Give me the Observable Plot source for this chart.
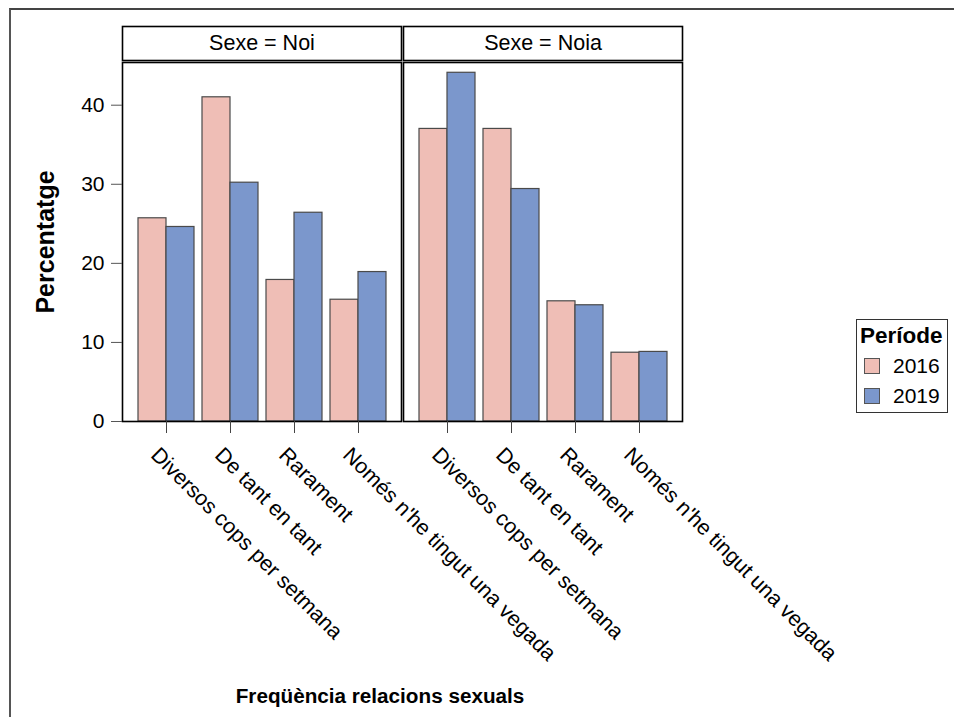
<!DOCTYPE html>
<html>
<head>
<meta charset="utf-8">
<script src="https://cdn.jsdelivr.net/npm/d3@7"></script>
<script src="https://cdn.jsdelivr.net/npm/@observablehq/plot@0.6"></script>
<style>
  html, body { margin: 0; padding: 0; background: #fff; overflow: hidden; }
  #wrap { position: relative; width: 954px; height: 717px; font-family: "Liberation Sans", Arial, sans-serif; }
  #border { position: absolute; left: 9px; top: 8px; width: 1200px; height: 1200px; border-top: 2px solid #444; border-left: 2px solid #555; }
  #legend { position: absolute; left: 856px; top: 319px; width: 92px; height: 94px; border: 1px solid #333; background: #fff; box-sizing: border-box; }
  #legend .title { position: absolute; left: 3px; top: 3px; font-weight: bold; font-size: 22.5px; color: #000; }
  #legend .row { position: absolute; left: 7px; display: flex; align-items: center; font-size: 21px; color: #000; }
  #legend .sw { width: 16px; height: 16px; border: 1px solid #555; margin-right: 13px; box-sizing: border-box; }
  #chart { position: absolute; left: 0; top: 0; }
</style>
</head>
<body>
<div id="wrap">
  <div id="border"></div>
  <div id="chart"></div>
  <div id="legend"></div>
</div>
<script>
const sexes = ["Noi", "Noia"];
const categories = ["Diversos cops per setmana", "De tant en tant", "Rarament", "Només n'he tingut una vegada"];
const periods = ["2016", "2019"];
const noi2016 = [25.7, 41.0, 17.9, 15.4];
const noi2019 = [24.6, 30.2, 26.4, 18.9];
const noia2016 = [37.0, 37.0, 15.2, 8.7];
const noia2019 = [44.1, 29.4, 14.7, 8.8];
const yTicks = [0, 10, 20, 30, 40];
const periodColors = ["#EFBEB6", "#7B97CC"];
const legendTitle = "Període";
const xTitle = "Freqüència relacions sexuals";
const yTitle = "Percentatge";
const stripPrefix = "Sexe = ";

const series = {Noi: {"2016": noi2016, "2019": noi2019}, Noia: {"2016": noia2016, "2019": noia2019}};
const rows = [];
for (const s of sexes) for (const p of periods) categories.forEach((c, i) => rows.push({sex: s, period: p, cat: c, value: series[s][p][i]}));

const chart = Plot.plot({
  width: 954,
  height: 717,
  marginLeft: 122,
  marginRight: 272,
  marginTop: 62,
  marginBottom: 296,
  style: {fontFamily: '"Liberation Sans", Arial, sans-serif', fontSize: "21px", background: "transparent", color: "#000"},
  fx: {domain: sexes, paddingInner: 0.0072, paddingOuter: 0, axis: null, label: null},
  x: {domain: categories, paddingInner: 0.125, paddingOuter: 0.242, label: null},
  y: {domain: [0, 45.4], label: null},
  color: {domain: periods, range: periodColors},
  marks: [
    Plot.barY(rows.filter(d => d.period === periods[0]), {fx: "sex", x: "cat", y: "value", fill: "period", stroke: "#4a4a4a", strokeWidth: 1.2, insetRight: 28}),
    Plot.barY(rows.filter(d => d.period === periods[1]), {fx: "sex", x: "cat", y: "value", fill: "period", stroke: "#4a4a4a", strokeWidth: 1.2, insetLeft: 28}),
    Plot.frame({stroke: "#000", strokeWidth: 1.6}),
    Plot.frame({stroke: "#000", strokeWidth: 1.6, insetTop: -36, insetBottom: 361}),
    Plot.text(sexes, {fx: d => d, text: d => stripPrefix + d, frameAnchor: "top", dy: -19, lineAnchor: "middle", fontSize: 21.5}),
    Plot.axisY({ticks: yTicks, tickSize: 11, tickPadding: 7, stroke: "#555", fontSize: 21, label: null}),
    Plot.axisX({tickSize: 12, tickRotate: 45, textAnchor: "start", lineAnchor: "top", tickPadding: 9, stroke: "#444", fontSize: 21.5, label: null})
  ]
});
document.getElementById("chart").appendChild(chart);

const svg = d3.select(chart);
svg.selectAll('[aria-label="x-axis tick label"]').each(function() {
  const t = this.getAttribute("transform") || "";
  this.setAttribute("transform", `translate(-6,3) ${t}`);
});
svg.append("text")
  .attr("transform", "translate(45,242) rotate(-90)")
  .attr("text-anchor", "middle").attr("dominant-baseline", "central")
  .attr("font-weight", "bold").attr("font-size", 25).attr("fill", "#000")
  .text(yTitle);
svg.append("text")
  .attr("x", 380).attr("y", 703)
  .attr("text-anchor", "middle")
  .attr("font-weight", "bold").attr("font-size", 20.7).attr("fill", "#000")
  .text(xTitle);

const legend = document.getElementById("legend");
const t = document.createElement("div");
t.className = "title"; t.textContent = legendTitle; legend.appendChild(t);
const color = chart.scale("color");
periods.forEach((p, i) => {
  const r = document.createElement("div");
  r.className = "row"; r.style.top = (34 + i * 30) + "px";
  const sw = document.createElement("div"); sw.className = "sw"; sw.style.background = color.apply(p);
  r.appendChild(sw);
  const s = document.createElement("span"); s.textContent = p; r.appendChild(s);
  legend.appendChild(r);
});
</script>
</body>
</html>
